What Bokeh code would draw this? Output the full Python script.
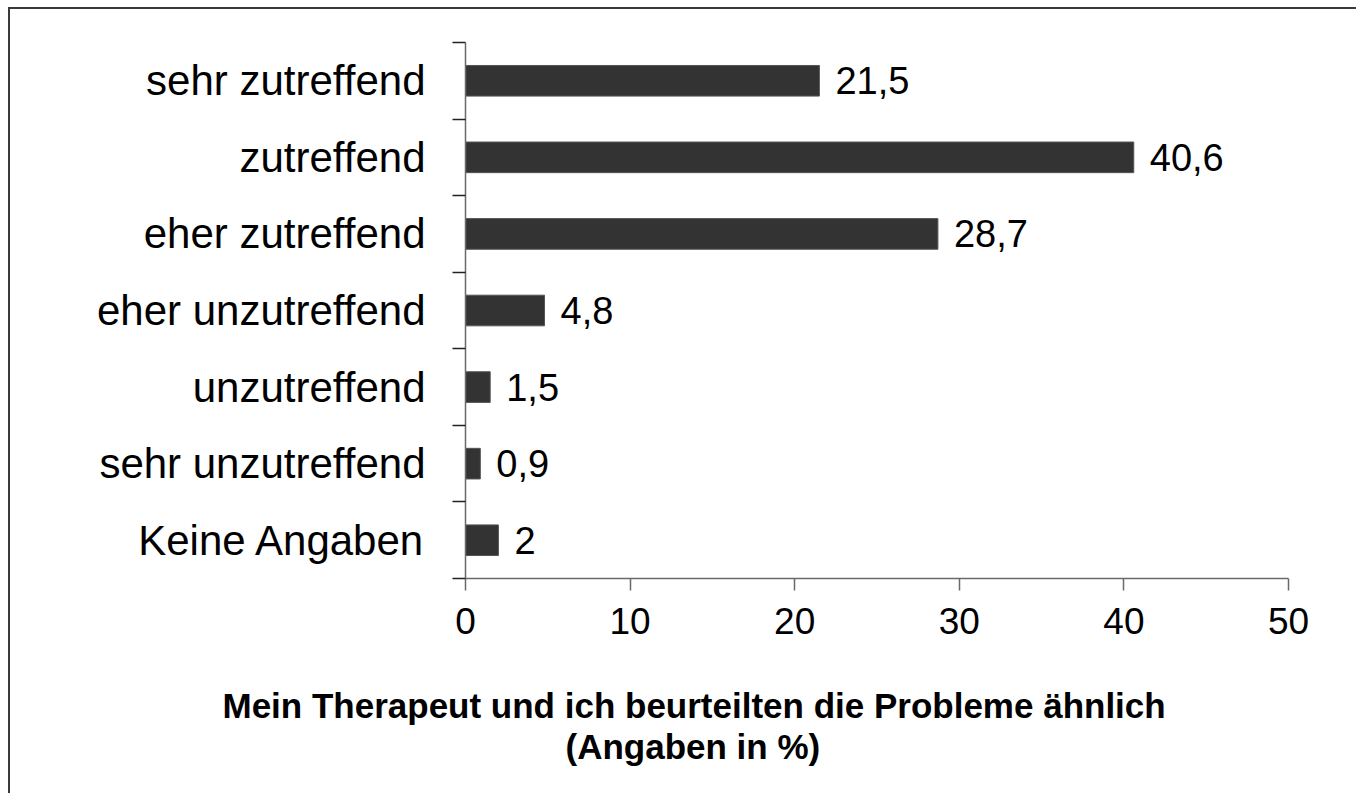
from bokeh.plotting import figure
from bokeh.models import Range1d, FixedTicker, Title
from bokeh.embed import file_html
from bokeh.resources import INLINE
from bokeh.core.properties import value

categories = ["sehr zutreffend", "zutreffend", "eher zutreffend", "eher unzutreffend",
              "unzutreffend", "sehr unzutreffend", "Keine Angaben"]
values = [21.5, 40.6, 28.7, 4.8, 1.5, 0.9, 2.0]
x_ticks = [0, 10, 20, 30, 40, 50]
title_lines = ["Mein Therapeut und ich beurteilten die Probleme ähnlich", "(Angaben in %)"]

FONT = "Liberation Sans"
n = len(categories)
ypos = [n - i - 0.5 for i in range(n)]
labels = [("%g" % v).replace(".", ",") for v in values]

p = figure(width=1348, height=786, x_range=Range1d(0, 50), y_range=Range1d(0, n),
           output_backend="svg", toolbar_location=None,
           min_border_left=455, min_border_right=70, min_border_top=33, min_border_bottom=217)
p.styles = {"margin-left": "8px", "margin-top": "7px",
            "border-left": "2px solid #3a3a3a", "border-top": "2px solid #3a3a3a"}
p.outline_line_color = None
p.xgrid.grid_line_color = None
p.ygrid.grid_line_color = None
p.background_fill_color = "white"
p.border_fill_color = "white"

p.hbar(y=ypos, left=0, right=values, height=0.4, fill_color="#333333", line_color="#555555", line_width=1)
p.text(x=values, y=ypos, text=labels, x_offset=16, text_baseline="middle",
       text_font=value(FONT), text_font_size="38px", text_color="black")

ya = p.yaxis[0]
ya.ticker = FixedTicker(ticks=ypos, minor_ticks=list(range(n + 1)))
ya.major_label_overrides = {y: c for y, c in zip(ypos, categories)}
ya.major_tick_line_color = None
ya.major_tick_in = 0
ya.major_tick_out = 0
ya.minor_tick_in = 0
ya.minor_tick_out = 13
ya.minor_tick_line_color = "#222222"
ya.minor_tick_line_width = 1.5
ya.axis_line_color = "#6a6a6a"
ya.axis_line_width = 1.5
ya.major_label_text_font = FONT
ya.major_label_text_font_size = "42px"
ya.major_label_text_color = "black"
ya.major_label_standoff = 27

xa = p.xaxis[0]
xa.ticker = FixedTicker(ticks=x_ticks, minor_ticks=[])
xa.major_tick_in = 0
xa.major_tick_out = 12
xa.major_tick_line_color = "#6a6a6a"
xa.major_tick_line_width = 1.5
xa.axis_line_color = "#6a6a6a"
xa.axis_line_width = 1.5
xa.major_label_text_font = FONT
xa.major_label_text_font_size = "37px"
xa.major_label_text_color = "black"
xa.major_label_standoff = 17
# invisible spacer label between tick labels and the title lines
xa.axis_label = " "
xa.axis_label_text_font_size = "35px"
xa.axis_label_standoff = 5

for txt, off in zip(title_lines, [-243, 100]):
    p.add_layout(Title(text=txt, align="left", offset=off, standoff=0,
                       text_font=FONT, text_font_size="35px", text_font_style="bold",
                       text_color="black"), "below")

open("out.html", "w").write(file_html(p, INLINE))
